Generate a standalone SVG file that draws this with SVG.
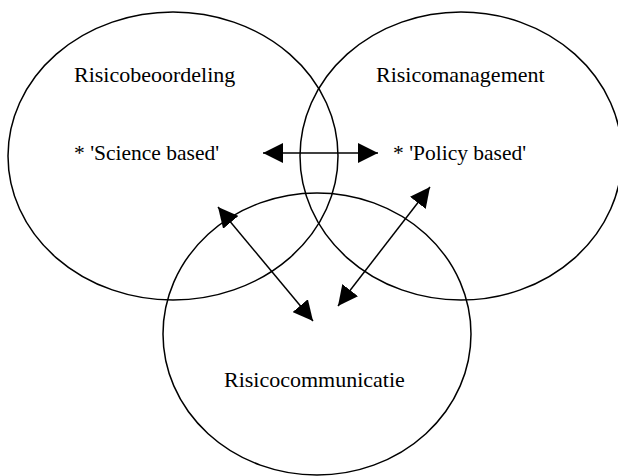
<svg xmlns="http://www.w3.org/2000/svg" width="618" height="476" viewBox="0 0 618 476">
<style>
.ell{fill:none;stroke:#000;stroke-width:1.5}
.lbl{font-family:"Liberation Serif","Times New Roman",serif;font-size:22px;fill:#000}
.sub{font-family:"Liberation Serif","Times New Roman",serif;font-size:21.5px;fill:#000}
.con{stroke:#000;stroke-width:1.5;fill:none;marker-start:url(#ah);marker-end:url(#ah)}
</style>
<defs>
<marker id="ah" viewBox="0 0 20 20" markerWidth="20" markerHeight="20" refX="20" refY="10" orient="auto-start-reverse" markerUnits="userSpaceOnUse">
<path d="M0,0 L20,10 L0,20 z" fill="#000"/>
</marker>
</defs>
<rect width="618" height="476" fill="#fff"/>
<g id="risicobeoordeling">
<ellipse class="ell" cx="173" cy="156" rx="165" ry="144"/>
<text class="lbl" x="74" y="82">Risicobeoordeling</text>
<text class="sub" x="74" y="160">* 'Science based'</text>
</g>
<g id="risicomanagement">
<ellipse class="ell" cx="461" cy="156" rx="161" ry="144"/>
<text class="lbl" x="376" y="82">Risicomanagement</text>
<text class="sub" x="393" y="160">* 'Policy based'</text>
</g>
<g id="risicocommunicatie">
<ellipse class="ell" cx="317" cy="334" rx="154" ry="141"/>
<text class="lbl" x="224" y="387">Risicocommunicatie</text>
</g>
<g id="connectors">
<line class="con" x1="263" y1="153" x2="378" y2="153"/>
<line class="con" x1="218" y1="207" x2="313" y2="321"/>
<line class="con" x1="430" y1="187" x2="338" y2="306"/>
</g>
</svg>
